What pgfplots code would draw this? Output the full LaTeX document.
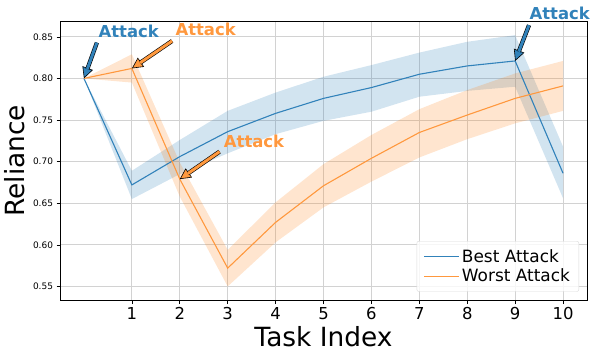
\documentclass[border=0pt]{standalone}
\usepackage{fontspec}
\setmainfont{DejaVu Sans}
\usepackage{pgfplots}
\pgfplotsset{compat=1.18}
\usepgfplotslibrary{fillbetween}
\usetikzlibrary{arrows.meta}

\definecolor{tabblue}{HTML}{1F77B4}
\definecolor{taborange}{HTML}{FF7F0E}
\colorlet{lineorange}{taborange!80!white}
\colorlet{lineblue}{tabblue!92!white}

% fancy arrow: coloured shaft with black edge, filled head
\newcommand{\attackarrow}[3]{%
  \draw[black, line width=0.6bp, -{Triangle[width=11bp,length=11bp,fill=#1]}] #2 -- #3;
  \draw[black, line width=0.6bp, double=#1, double distance=3bp, shorten >=10bp] #2 -- #3;
}

\begin{document}
\begin{tikzpicture}
\begin{axis}[
    name=ax,
    scale only axis,
    width=527bp, height=279.6bp,
    xmin=-0.5, xmax=10.5,
    ymin=0.533, ymax=0.869,
    xtick={1,2,3,4,5,6,7,8,9,10},
    ytick={0.55,0.60,0.65,0.70,0.75,0.80,0.85},
    /pgf/number format/assume math mode=true,
    yticklabel style={/pgf/number format/fixed, /pgf/number format/fixed zerofill,
        /pgf/number format/precision=2, font=\fontsize{9}{9}\selectfont},
    xticklabel style={font=\fontsize{16.5}{16.5}\selectfont},
    tick align=outside,
    major tick length=3.5bp,
    tick style={black, line width=0.6bp},
    xtick pos=bottom, ytick pos=left,
    grid=major,
    grid style={gray!35, line width=0.8bp},
    axis line style={black, line width=0.8bp},
    xlabel={Task Index},
    ylabel={Reliance},
    label style={font=\fontsize{26.5}{26.5}\selectfont},
    xlabel style={inner sep=0pt, yshift=-3bp},
    ylabel style={yshift=1bp},
    clip mode=individual,
    legend style={at={(0.985,0.032)}, anchor=south east,
        font=\fontsize{17}{17}\selectfont,
        nodes={font=\fontsize{17}{17}\selectfont},
        draw=gray!30, rounded corners=2bp,
        fill=white, fill opacity=0.8, text opacity=1,
        inner xsep=7bp, inner ysep=6bp, row sep=1.5bp},
    legend cell align=left,
    legend image code/.code={\draw[#1] (0bp,0bp) -- (35bp,0bp);},
]

% Best Attack band
\addplot[name path=bu, draw=none, forget plot] coordinates {
  (0,0.800) (1,0.689) (2,0.726) (3,0.761) (4,0.783) (5,0.802)
  (6,0.816) (7,0.831) (8,0.844) (9,0.852) (10,0.718)};
\addplot[name path=bl, draw=none, forget plot] coordinates {
  (0,0.800) (1,0.655) (2,0.685) (3,0.710) (4,0.733) (5,0.749)
  (6,0.760) (7,0.778) (8,0.785) (9,0.790) (10,0.656)};
\addplot[tabblue, fill opacity=0.2, draw=none, forget plot] fill between[of=bu and bl];

% Worst Attack band
\addplot[name path=ou, draw=none, forget plot] coordinates {
  (0,0.800) (1,0.829) (2,0.699) (3,0.594) (4,0.651) (5,0.697)
  (6,0.732) (7,0.763) (8,0.786) (9,0.806) (10,0.821)};
\addplot[name path=ol, draw=none, forget plot] coordinates {
  (0,0.800) (1,0.795) (2,0.658) (3,0.550) (4,0.603) (5,0.645)
  (6,0.676) (7,0.705) (8,0.727) (9,0.746) (10,0.761)};
\addplot[taborange, fill opacity=0.2, draw=none, forget plot] fill between[of=ou and ol];

\addplot[lineblue, line width=1.1bp] coordinates {
  (0,0.800) (1,0.672) (2,0.706) (3,0.736) (4,0.758) (5,0.776)
  (6,0.789) (7,0.805) (8,0.815) (9,0.821) (10,0.686)};
\addlegendentry{Best Attack}

\addplot[lineorange, line width=1.1bp] coordinates {
  (0,0.800) (1,0.812) (2,0.679) (3,0.572) (4,0.627) (5,0.671)
  (6,0.704) (7,0.735) (8,0.756) (9,0.776) (10,0.791)};
\addlegendentry{Worst Attack}

% annotations
\attackarrow{lineblue}{(axis cs:0.27,0.843)}{(axis cs:0,0.800)}
\attackarrow{lineorange}{(axis cs:1.84,0.845)}{(axis cs:1,0.812)}
\attackarrow{lineorange}{(axis cs:2.83,0.712)}{(axis cs:2,0.679)}
\attackarrow{lineblue}{(axis cs:9.29,0.864)}{(axis cs:9,0.821)}

\node[text=lineblue, inner sep=1bp, font=\bfseries\fontsize{16.5}{16.5}\selectfont] at (axis cs:0.934,0.857) {Attack};
\node[text=lineorange, inner sep=1bp, font=\bfseries\fontsize{16.5}{16.5}\selectfont] at (axis cs:2.54,0.859) {Attack};
\node[text=lineorange, inner sep=1bp, font=\bfseries\fontsize{16.5}{16.5}\selectfont] at (axis cs:3.55,0.7246) {Attack};
\node[text=lineblue, inner sep=1bp, font=\bfseries\fontsize{16.5}{16.5}\selectfont] at (axis cs:9.93,0.878) {Attack};

\end{axis}
% page margins as in the reference
\pgfresetboundingbox
\path[use as bounding box] ([xshift=-60bp,yshift=-58.4bp]ax.south west)
    rectangle ([xshift=11bp,yshift=21bp]ax.north east);
\end{tikzpicture}
\end{document}
